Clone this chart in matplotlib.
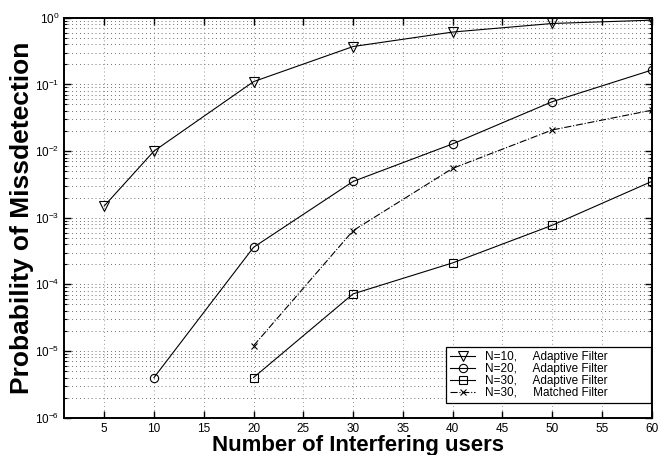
import matplotlib.pyplot as plt
from matplotlib.ticker import LogLocator, NullFormatter, FixedLocator

plt.rcParams['font.family'] = ['Liberation Sans', 'DejaVu Sans']
plt.rcParams['mathtext.fontset'] = 'custom'
plt.rcParams['mathtext.rm'] = 'Liberation Sans'

# ---------------- data ----------------
users_n10 = [5, 10, 20, 30, 40, 50, 60]
pmd_n10 = [1.5e-3, 1.0e-2, 1.1e-1, 3.7e-1, 6.1e-1, 8.2e-1, 9.2e-1]

users_n20 = [10, 20, 30, 40, 50, 60]
pmd_n20 = [4.0e-6, 3.6e-4, 3.5e-3, 1.28e-2, 5.5e-2, 1.64e-1]

users_n30 = [20, 30, 40, 50, 60]
pmd_n30 = [4.0e-6, 7.2e-5, 2.1e-4, 7.7e-4, 3.5e-3]

users_mf = [20, 30, 40, 50, 60]
pmd_mf = [1.2e-5, 6.4e-4, 5.5e-3, 2.07e-2, 4.1e-2]

labels = ['N=10,     Adaptive Filter', 'N=20,     Adaptive Filter',
          'N=30,     Adaptive Filter', 'N=30,     Matched Filter']
xticks = [5, 10, 15, 20, 25, 30, 35, 40, 45, 50, 55, 60]
minor_subs = [2, 3, 4, 5, 6, 7, 8, 9]

# ---------------- plot ----------------
fig = plt.figure(figsize=(6.64, 4.55), dpi=100)
ax = fig.add_axes([0.097, 0.082, 0.8845, 0.879])

style = dict(color='black', linewidth=0.8, markerfacecolor='none',
             markeredgecolor='black', markeredgewidth=0.8)
ax.semilogy(users_n10, pmd_n10, '-v', markersize=7, label=labels[0], **style)
ax.semilogy(users_n20, pmd_n20, '-o', markersize=6, label=labels[1], **style)
ax.semilogy(users_n30, pmd_n30, '-s', markersize=5.5, label=labels[2], **style)
ax.semilogy(users_mf, pmd_mf, '-.x', markersize=4.5, label=labels[3], **style)

ax.set_xlim(1, 60)
ax.set_ylim(1e-6, 1)
ax.xaxis.set_major_locator(FixedLocator(xticks))
ax.yaxis.set_major_locator(LogLocator(base=10, numticks=10))
ax.yaxis.set_minor_locator(LogLocator(base=10, subs=minor_subs, numticks=20))
ax.yaxis.set_minor_formatter(NullFormatter())

ax.tick_params(which='both', direction='in', top=True, right=True, labelsize=8.5)
ax.tick_params(which='major', length=5, width=1)
ax.tick_params(which='minor', length=2.5, width=0.8)
for s in ax.spines.values():
    s.set_linewidth(1.4)

# matlab-like dotted grid, minor lines only on the log axis
dots = (0, (0.8, 3.2))
ax.grid(True, which='major', axis='y', linestyle=dots, color='0.3', linewidth=0.7)
ax.grid(True, which='minor', axis='y', linestyle=dots, color='0.3', linewidth=0.7)
ax.grid(True, which='major', axis='x', linestyle=dots, color='0.5', linewidth=0.7)

ax.set_xlabel('Number of Interfering users', fontsize=16, fontweight='bold', labelpad=0)
ax.set_ylabel('Probability of Missdetection', fontsize=19, fontweight='bold', labelpad=1)

leg = ax.legend(loc='lower left', bbox_to_anchor=(0.65, 0.037, 0.348, 0.2),
                mode='expand', fontsize=8.5, fancybox=False, framealpha=1,
                edgecolor='black', handlelength=2.1, handletextpad=0.85,
                borderaxespad=0, labelspacing=0.0, borderpad=0.35)
leg.get_frame().set_linewidth(0.9)

fig.savefig('out.png', dpi=100)
